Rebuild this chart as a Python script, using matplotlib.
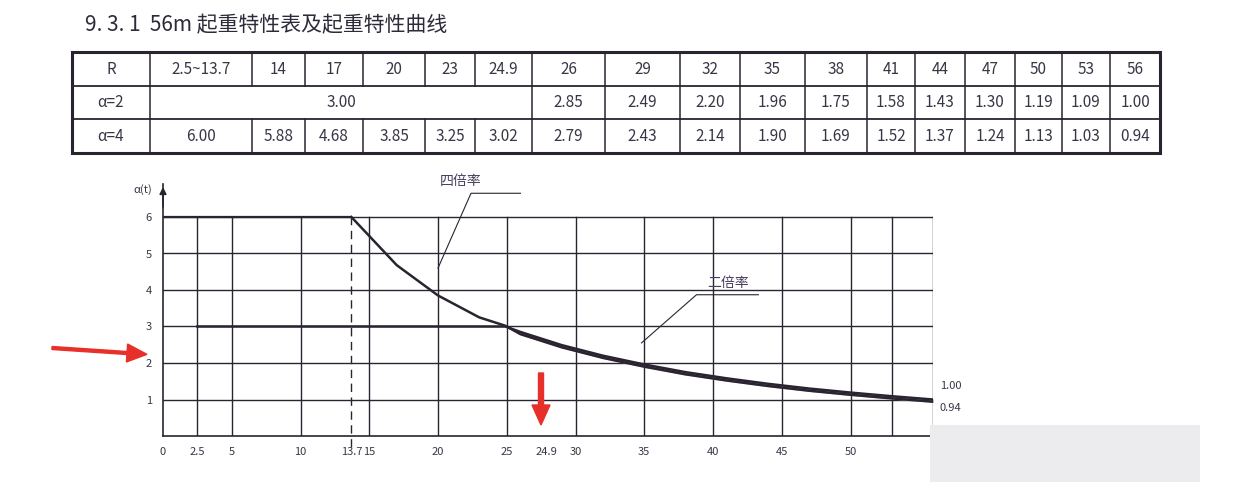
import matplotlib
matplotlib.use("Agg")
import matplotlib.pyplot as plt
from matplotlib.patches import Rectangle, FancyArrow

plt.rcParams['font.family'] = ['Noto Sans CJK SC', 'DejaVu Sans']

# ---- data ----
R_labels = ["2.5~13.7", "14", "17", "20", "23", "24.9", "26", "29", "32", "35", "38", "41", "44", "47", "50", "53", "56"]
a2_labels = ["3.00", "2.85", "2.49", "2.20", "1.96", "1.75", "1.58", "1.43", "1.30", "1.19", "1.09", "1.00"]
a4_labels = ["6.00", "5.88", "4.68", "3.85", "3.25", "3.02", "2.79", "2.43", "2.14", "1.90", "1.69", "1.52", "1.37", "1.24", "1.13", "1.03", "0.94"]

r2 = [2.5, 24.9, 26, 29, 32, 35, 38, 41, 44, 47, 50, 53, 56]
a2 = [3.00, 3.00, 2.85, 2.49, 2.20, 1.96, 1.75, 1.58, 1.43, 1.30, 1.19, 1.09, 1.00]
r4 = [13.7, 14, 17, 20, 23, 24.9, 26, 29, 32, 35, 38, 41, 44, 47, 50, 53, 56]
a4 = [6.00, 5.88, 4.68, 3.85, 3.25, 3.02, 2.79, 2.43, 2.14, 1.90, 1.69, 1.52, 1.37, 1.24, 1.13, 1.03, 0.94]
xgrid = [2.5, 5, 10, 15, 20, 25, 30, 35, 40, 45, 50, 53, 56]
xticks = [0, 2.5, 5, 10, 13.7, 15, 20, 25, 30, 35, 40, 45, 50]
xticklabels = ["0", "2.5", "5", "10", "13.7", "15", "20", "25", "30", "35", "40", "45", "50"]
yticks = [1, 2, 3, 4, 5, 6]

W, H = 1236, 486
fig = plt.figure(figsize=(W / 100, H / 100), dpi=100)
fig.patch.set_facecolor('white')

def P(x, y):
    return x / W, 1 - y / H

ink = '#2a2430'
txt = '#3a3545'

fig.text(*P(85, 25), "9. 3. 1  56m 起重特性表及起重特性曲线", fontsize=15, color='#2b2b3a',
         va='center', ha='left')

# ---- table ----
tab = fig.add_axes([0, 0, 1, 1])
tab.set_xlim(0, W); tab.set_ylim(H, 0); tab.axis('off')
bounds = [72, 150, 252, 305, 363, 425, 475, 532, 605, 680, 740, 805, 867, 915, 965, 1015, 1062, 1110, 1160]
rows = [52, 86, 119, 153]
tab.add_patch(Rectangle((72, 52), 1160 - 72, 101, fill=False, lw=2.2, ec=ink))
for y in rows[1:-1]:
    tab.plot([72, 1160], [y, y], color=ink, lw=1.3)
for i, x in enumerate(bounds[1:-1], start=1):
    tab.plot([x, x], [52, 86], color=ink, lw=1.1)
    tab.plot([x, x], [119, 153], color=ink, lw=1.1)
    if i == 1 or i >= 7:
        tab.plot([x, x], [86, 119], color=ink, lw=1.1)
def cell(i, r, s):
    tab.text((bounds[i] + bounds[i + 1]) / 2, (rows[r] + rows[r + 1]) / 2, s,
             ha='center', va='center', fontsize=11, color=txt)
cell(0, 0, "R"); cell(0, 1, "α=2"); cell(0, 2, "α=4")
for i, s in enumerate(R_labels):
    cell(i + 1, 0, s)
for i, s in enumerate(a4_labels):
    cell(i + 1, 2, s)
tab.text((bounds[1] + bounds[7]) / 2, (rows[1] + rows[2]) / 2, a2_labels[0],
         ha='center', va='center', fontsize=11, color=txt)
for i, s in enumerate(a2_labels[1:]):
    cell(i + 7, 1, s)

# ---- chart ----
x0, x1 = 163, 933
y0 = 436
ppu = 36.5
ytop = 6.9
ax = fig.add_axes([x0 / W, (H - y0) / H, (x1 - x0) / W, ytop * ppu / H])
ax.patch.set_alpha(0)
ax.set_xlim(0, 56); ax.set_ylim(0, ytop)
for s in ['top', 'right']:
    ax.spines[s].set_visible(False)
ax.spines['left'].set_color(ink); ax.spines['bottom'].set_color(ink)
ax.spines['left'].set_linewidth(1.2); ax.spines['bottom'].set_linewidth(1.2)
for xv in xgrid:
    ax.plot([xv, xv], [0, 6], color=ink, lw=1.0)
for yv in yticks:
    ax.plot([0, 56], [yv, yv], color=ink, lw=1.0)
ax.plot([13.7, 13.7], [-0.3, 6], color=ink, lw=1.0, ls=(0, (6, 4)), clip_on=False)
ax.fill_between(r4[5:], a4[5:], [3.0] + a2[2:], color='#b8b4c0', zorder=3)
ax.plot(r2, a2, color=ink, lw=1.8, zorder=4)
ax.plot([0, 13.7], [6, 6], color=ink, lw=1.6, zorder=4)
ax.plot(r4, a4, color=ink, lw=1.8, zorder=4)
ax.set_xticks(xticks); ax.set_xticklabels(xticklabels, fontsize=8, color=txt)
ax.set_yticks(yticks); ax.set_yticklabels([str(v) for v in yticks], fontsize=8, color=txt)
ax.tick_params(length=0, pad=8)
ax.text(27.9, -0.45, "24.9", fontsize=8, color=txt, ha='center', va='center')
ax.annotate("", xy=(0, ytop), xytext=(0, 6.2), annotation_clip=False,
            arrowprops=dict(arrowstyle='-|>', color=ink, lw=1.2))
ax.text(-0.8, 6.75, "α(t)", fontsize=8, color=txt, ha='right', va='center')

# leaders
ax.plot([20.0, 22.4, 26.0], [4.6, 6.65, 6.65], color=ink, lw=0.8, clip_on=False)
fig.text(*P(461, 181), "四倍率", fontsize=10, color='#4a4060', ha='center', va='center')
ax.plot([34.8, 38.8, 43.3], [2.55, 3.87, 3.87], color=ink, lw=0.8)
fig.text(*P(728, 283), "二倍率", fontsize=10, color='#4a4060', ha='center', va='center')
fig.text(*P(940, 386), "1.00", fontsize=8, color=txt, ha='left', va='center')
fig.text(*P(940, 408), "0.94", fontsize=8, color=txt, ha='left', va='center')

# overlay: red arrows and watermark
ov = fig.add_axes([0, 0, 1, 1], zorder=10)
ov.set_xlim(0, W); ov.set_ylim(H, 0); ov.axis('off'); ov.patch.set_alpha(0)
ov.add_patch(FancyArrow(52, 348, 75, 5, width=3, head_width=18, head_length=20,
                        color='#e8302a'))
ov.add_patch(FancyArrow(541, 373, 0, 32, width=5, head_width=18, head_length=20,
                        color='#e8302a'))
ov.add_patch(Rectangle((930, 425), 270, 57, color='#ececee', ec='none'))

fig.savefig("out.png", dpi=100)
